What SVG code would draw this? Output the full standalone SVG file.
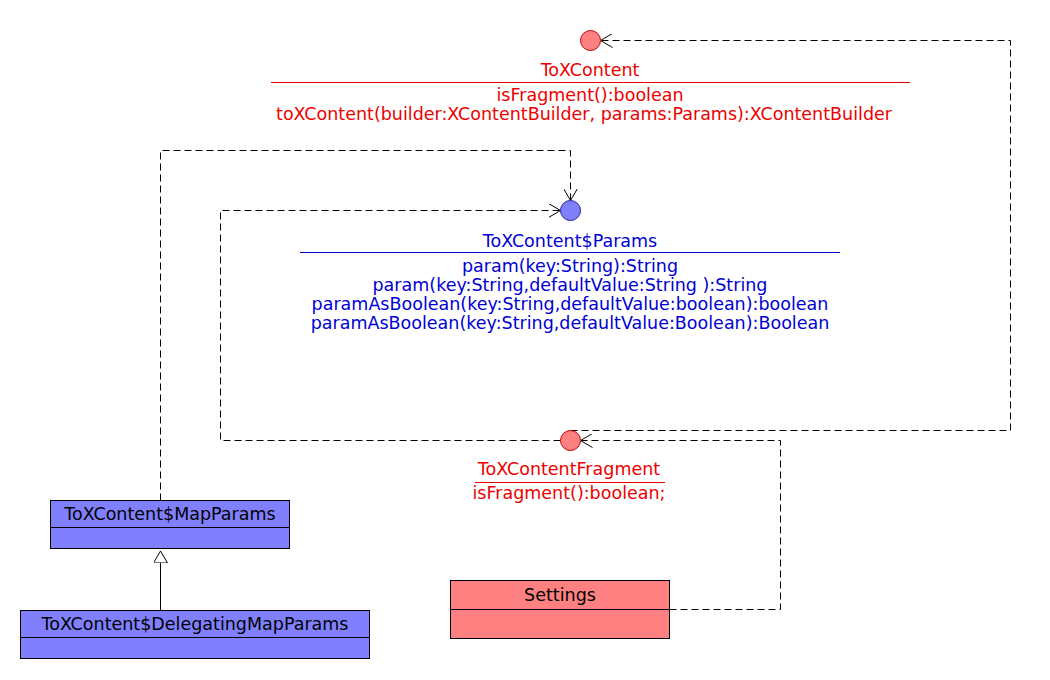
<svg xmlns="http://www.w3.org/2000/svg" width="1050" height="680" viewBox="0 0 1050 680">
<style>
text{font-family:"DejaVu Sans","Liberation Sans",sans-serif;font-size:17.5px;text-anchor:middle}
.r{fill:#ee0000}
.b{fill:#0000d4}
.k{fill:#000}
.rl{stroke:#e80000;stroke-width:1}
.bl{stroke:#0000cc;stroke-width:1}
.cr{fill:#ff8080;stroke:#c00000;stroke-width:1}
.cb{fill:#8080ff;stroke:#2020a0;stroke-width:1}
.boxb{fill:#8080ff;stroke:#000;stroke-width:1}
.boxr{fill:#ff8080;stroke:#000;stroke-width:1}
.dash{fill:none;stroke:#000;stroke-width:1;stroke-dasharray:7 4}
.solid{fill:none;stroke:#000;stroke-width:1}
</style>
<defs>
<marker id="open" viewBox="0 0 12 14" refX="12" refY="7" markerWidth="12" markerHeight="14" markerUnits="userSpaceOnUse" orient="auto">
<path d="M0,0 L12,7 L0,14" fill="none" stroke="#000" stroke-width="1"/>
</marker>
<marker id="tri" viewBox="0 0 12 14" refX="12" refY="7" markerWidth="12" markerHeight="14" markerUnits="userSpaceOnUse" orient="auto">
<path d="M0,0 L12,7 L0,14 Z" fill="#fff" stroke="#000" stroke-width="1"/>
</marker>
</defs>
<g id="connectors">
<path class="dash" d="M570.5,430.5 H1010.5 V40.5 H600.5" marker-end="url(#open)"/>
<path class="dash" d="M669.5,609.5 H780.5 V440.5 H580.5" marker-end="url(#open)"/>
<path class="dash" d="M560.5,440.5 H220.5 V210.5 H560.5" marker-end="url(#open)"/>
<path class="dash" d="M160.5,500.5 V150.5 H570.5 V200.5" marker-end="url(#open)"/>
<path class="solid" d="M160.5,610 V551" marker-end="url(#tri)"/>
</g>
<g id="ToXContent">
<circle class="cr" cx="590.5" cy="40.5" r="10"/>
<text class="r" x="590" y="76">ToXContent</text>
<line class="rl" x1="271" y1="82.5" x2="910" y2="82.5"/>
<text class="r" x="590" y="101">isFragment():boolean</text>
<text class="r" x="584" y="120">toXContent(builder:XContentBuilder, params:Params):XContentBuilder</text>
</g>
<g id="ToXContentParams">
<circle class="cb" cx="570.5" cy="210.5" r="10"/>
<text class="b" x="570" y="247">ToXContent$Params</text>
<line class="bl" x1="300" y1="252.5" x2="840" y2="252.5"/>
<text class="b" x="570" y="272">param(key:String):String</text>
<text class="b" x="570" y="291">param(key:String,defaultValue:String ):String</text>
<text class="b" x="570" y="310">paramAsBoolean(key:String,defaultValue:boolean):boolean</text>
<text class="b" x="570" y="329">paramAsBoolean(key:String,defaultValue:Boolean):Boolean</text>
</g>
<g id="ToXContentFragment">
<circle class="cr" cx="570.5" cy="440.5" r="10"/>
<text class="r" x="569" y="475">ToXContentFragment</text>
<line class="rl" x1="475" y1="482.5" x2="665" y2="482.5"/>
<text class="r" x="569" y="499">isFragment():boolean;</text>
</g>
<g id="MapParams">
<rect class="boxb" x="50.5" y="500.5" width="239" height="48"/>
<line class="solid" x1="50.5" y1="527.5" x2="289.5" y2="527.5"/>
<text class="k" x="170" y="520">ToXContent$MapParams</text>
</g>
<g id="DelegatingMapParams">
<rect class="boxb" x="20.5" y="610.5" width="349" height="48"/>
<line class="solid" x1="20.5" y1="637.5" x2="369.5" y2="637.5"/>
<text class="k" x="195" y="630">ToXContent$DelegatingMapParams</text>
</g>
<g id="Settings">
<rect class="boxr" x="450.5" y="580.5" width="219" height="58"/>
<line class="solid" x1="450.5" y1="609.5" x2="669.5" y2="609.5"/>
<text class="k" x="560" y="601">Settings</text>
</g>
</svg>
